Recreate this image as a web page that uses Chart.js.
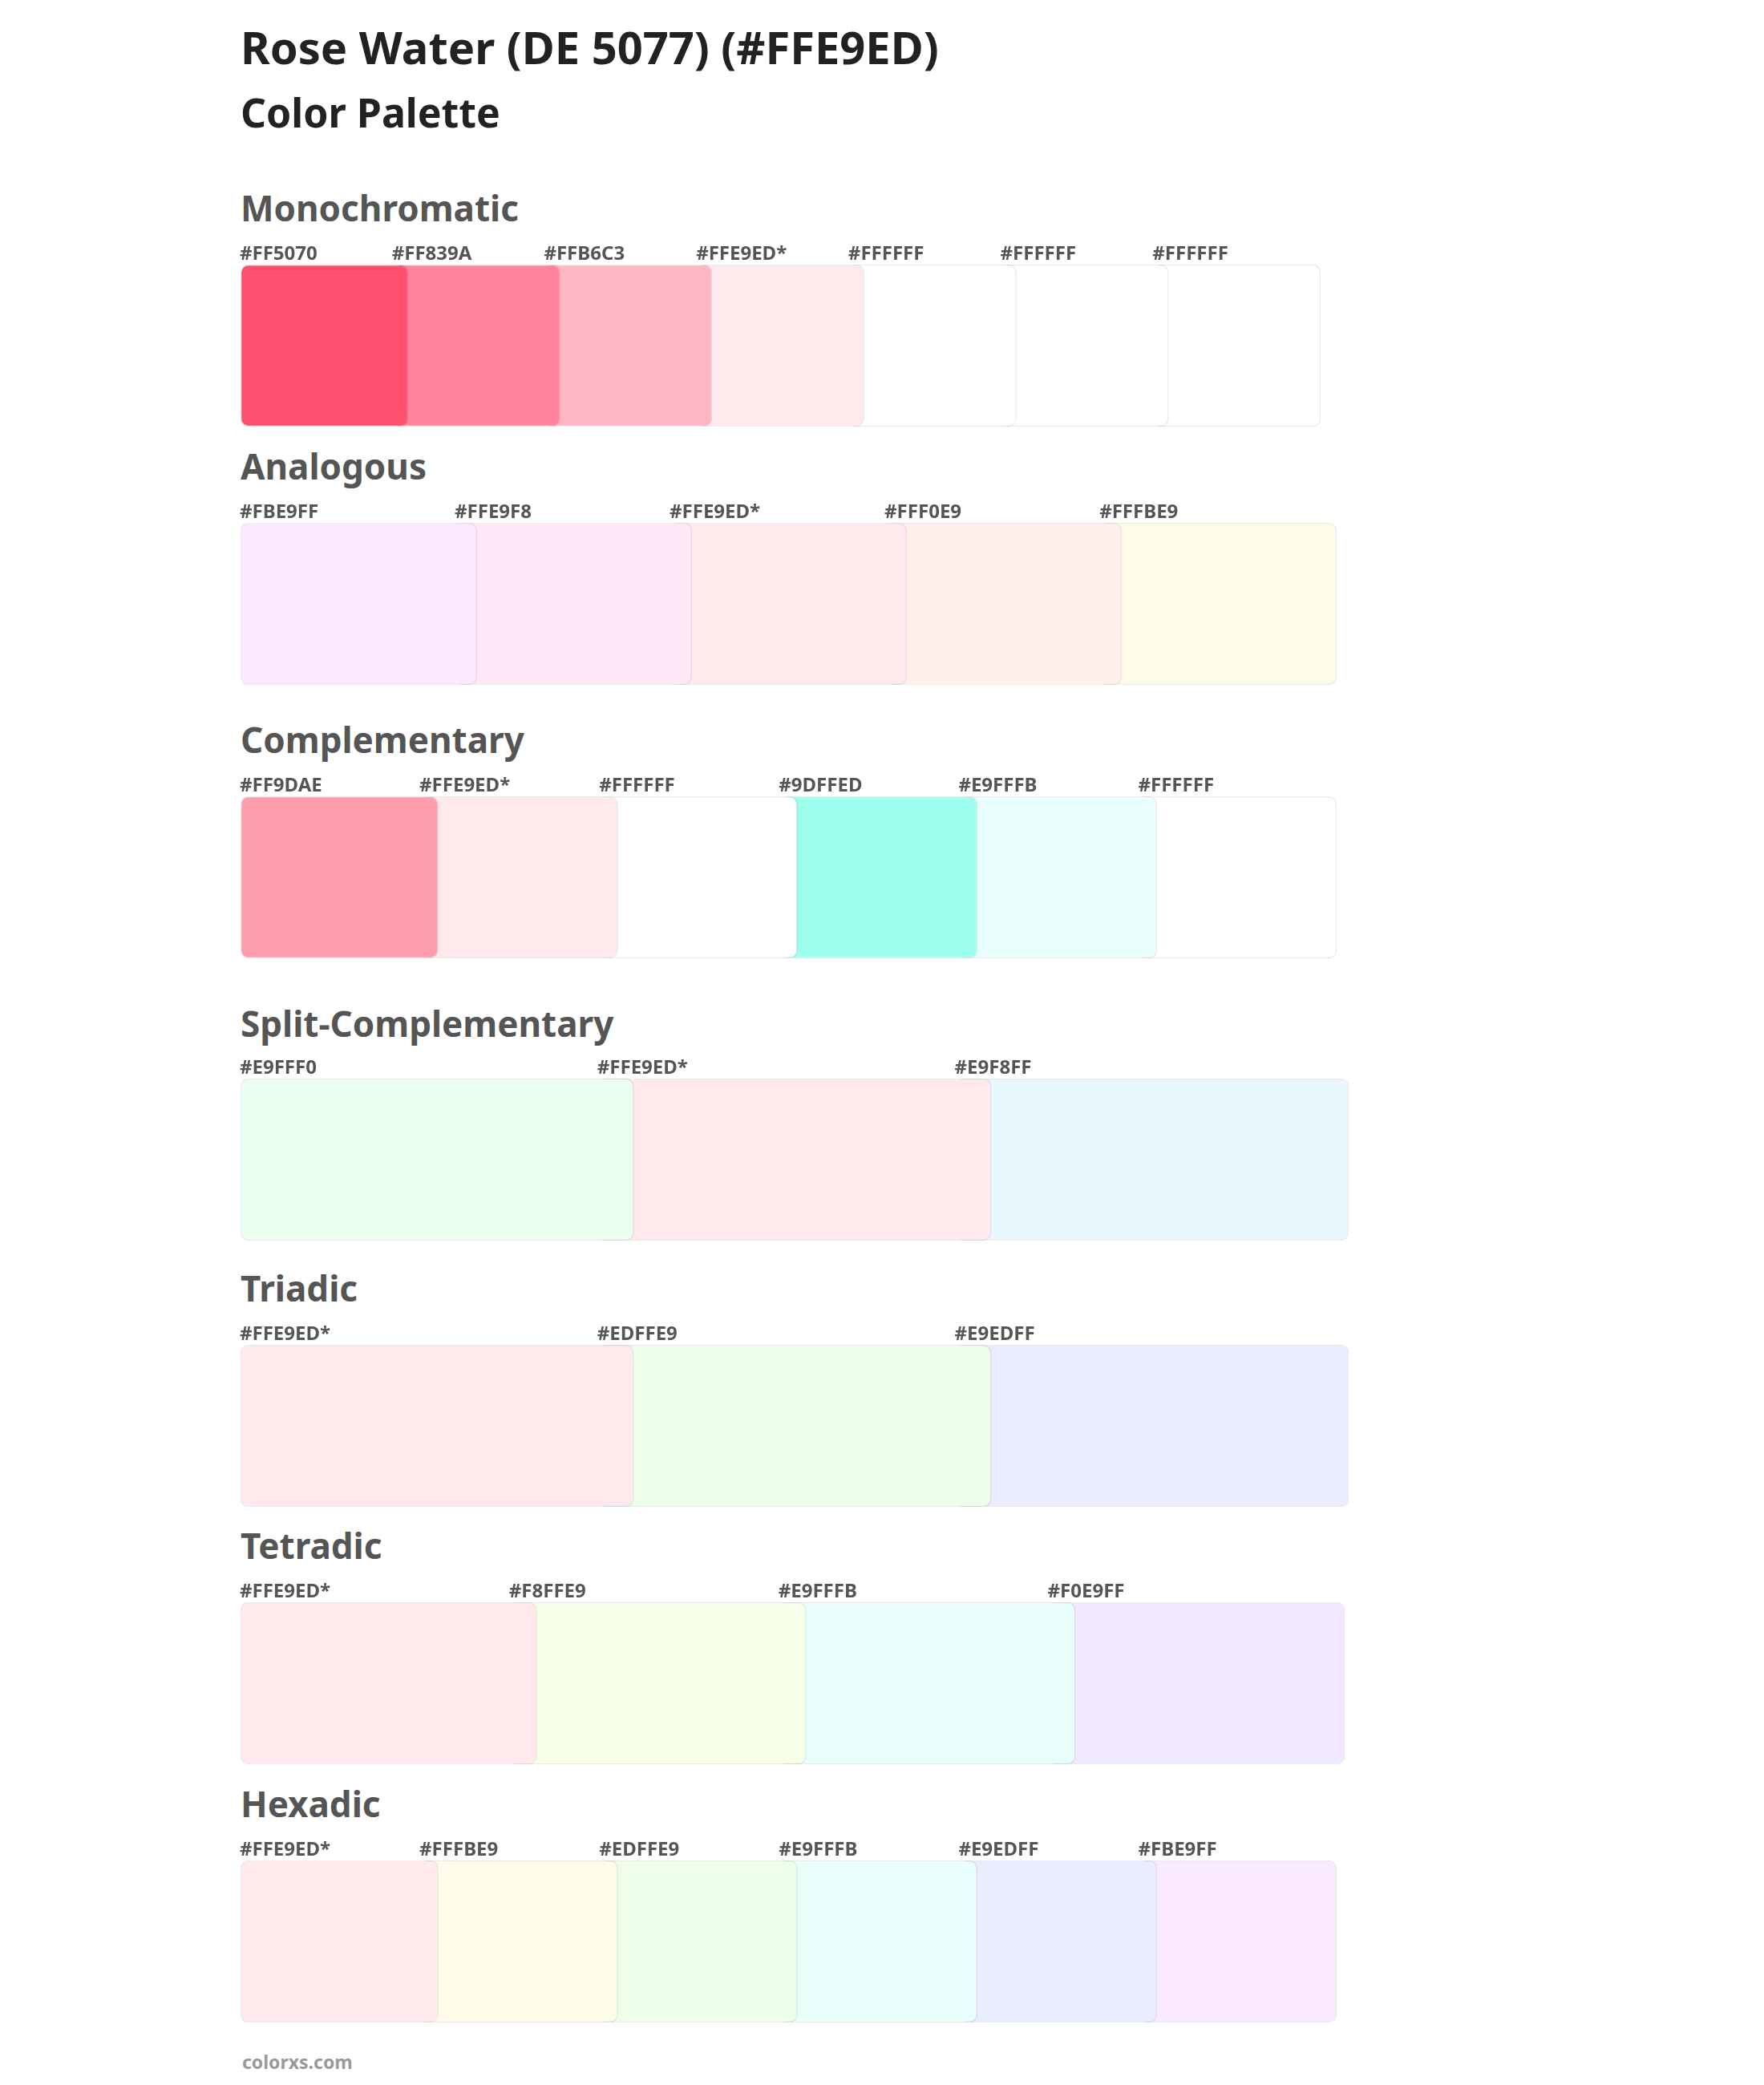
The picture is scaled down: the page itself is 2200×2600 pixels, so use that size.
<!DOCTYPE html>
<html>
<head>
<meta charset="utf-8">
<script src="https://cdn.jsdelivr.net/npm/chart.js"></script>
<style>
  body { margin: 0; background: #fff; font-family: "Noto Sans", sans-serif; }
  #page { position: relative; width: 2200px; height: 2600px; }
  .title { position: absolute; left: 300px; margin: 0; color: #222; font-weight: 700; }
  .head { position: absolute; left: 300px; margin: 0; color: #555; font-weight: 700; font-size: 44px; line-height: 60px; }
  canvas { position: absolute; left: 298px; }
  #foot { position: absolute; left: 302px; top: 2555px; color: #999; font-weight: 700; font-size: 23px; }
</style>
</head>
<body>
<div id="page">
  <h1 class="title" style="top:26px;font-size:56px;line-height:64px;">Rose Water (DE 5077) (#FFE9ED)</h1>
  <h2 class="title" style="top:110px;font-size:50px;line-height:60px;">Color Palette</h2>
  <div id="foot">colorxs.com</div>
</div>
<script>
// palette names and swatch colors
const sectionNames = ["Monochromatic", "Analogous", "Complementary", "Split-Complementary", "Triadic", "Tetradic", "Hexadic"];
const monochromatic = ["#FF5070", "#FF839A", "#FFB6C3", "#FFE9ED*", "#FFFFFF", "#FFFFFF", "#FFFFFF"];
const analogous = ["#FBE9FF", "#FFE9F8", "#FFE9ED*", "#FFF0E9", "#FFFBE9"];
const complementary = ["#FF9DAE", "#FFE9ED*", "#FFFFFF", "#9DFFED", "#E9FFFB", "#FFFFFF"];
const splitComplementary = ["#E9FFF0", "#FFE9ED*", "#E9F8FF"];
const triadic = ["#FFE9ED*", "#EDFFE9", "#E9EDFF"];
const tetradic = ["#FFE9ED*", "#F8FFE9", "#E9FFFB", "#F0E9FF"];
const hexadic = ["#FFE9ED*", "#FFFBE9", "#EDFFE9", "#E9FFFB", "#E9EDFF", "#FBE9FF"];
const palettes = [monochromatic, analogous, complementary, splitComplementary, triadic, tetradic, hexadic];

// layout (page pixels)
const headTops = [229, 551, 892, 1246, 1576, 1897, 2219];
const swatchTops = [330, 652, 993, 1345, 1677, 1998, 2320];
const rowWidths = [1357, 1377, 1377, 1392, 1392, 1387, 1377];
const overlap = 0.1;
const labelSpace = 40;

const labelPlugin = {
  id: "hexLabels",
  afterDatasetsDraw(chart) {
    const ctx = chart.ctx;
    ctx.save();
    ctx.font = "bold 24px 'Noto Sans'";
    ctx.fillStyle = "#555";
    ctx.textBaseline = "bottom";
    chart.data.datasets.forEach((ds, i) => {
      const bar = chart.getDatasetMeta(i).data[0];
      const p = bar.getProps(["base", "y", "height"], true);
      ctx.fillText(ds.label, p.base - 1, p.y - p.height / 2 - 1);
    });
    ctx.restore();
  }
};

const page = document.getElementById("page");
palettes.forEach((colors, r) => {
  const h = document.createElement("div");
  h.className = "head";
  h.style.top = headTops[r] + "px";
  h.textContent = sectionNames[r];
  page.appendChild(h);

  const canvas = document.createElement("canvas");
  canvas.width = rowWidths[r] + 4;
  canvas.height = 200 + labelSpace + 4;
  canvas.style.top = (swatchTops[r] - labelSpace) + "px";
  page.appendChild(canvas);

  const n = colors.length;
  new Chart(canvas, {
    type: "bar",
    data: {
      labels: [""],
      datasets: colors.map((c, i) => ({
        label: c,
        data: [[i, i + 1 + overlap]],
        order: i,
        backgroundColor: c.replace("*", ""),
        borderColor: "rgba(0,0,0,0.08)",
        borderWidth: 1.5,
        borderRadius: 10,
        borderSkipped: false,
        barPercentage: 1,
        categoryPercentage: 1
      }))
    },
    options: {
      indexAxis: "y",
      responsive: false,
      animation: false,
      devicePixelRatio: 1,
      layout: { padding: { top: labelSpace, left: 2, right: 12, bottom: 2 } },
      plugins: { legend: { display: false }, tooltip: { enabled: false } },
      scales: {
        x: { display: false, min: 0, max: n + overlap },
        y: { display: false, stacked: true }
      },
      datasets: { bar: { grouped: false } }
    },
    plugins: [labelPlugin]
  });
});
</script>
</body>
</html>
